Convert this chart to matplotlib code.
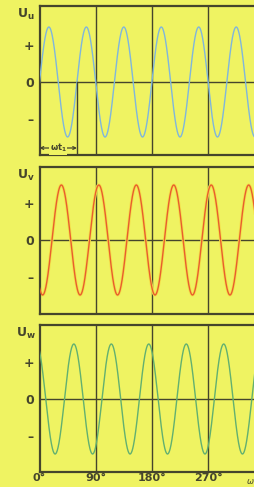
import numpy as np
from matplotlib import pyplot as plt

# Daten: drei Phasen, jeweils um 120 Grad (elektrisch) versetzt
phase_labels = ['u', 'v', 'w']
phase_shift_el = [0, 120, 240]      # Grad elektrisch
cycles_per_turn = 6                 # Perioden pro 360 Grad
line_colors = ['#7fb6dc', '#e85e2e', '#62b070']
x_ticks = [0, 90, 180, 270]
x_tick_labels = ['0°', '90°', '180°', '270°']
y_ticks = [0.68, 0, -0.68]
y_tick_labels = ['+', '0', '–']
wt1 = 60                            # Markierung omega*t1

W, H = 254, 487
bg = '#eff362'
dark = '#45452c'

fig = plt.figure(figsize=(W / 100, H / 100), dpi=100, facecolor=bg)

# Pixelrahmen der drei Felder (oben, unten, Nulllinie)
frames = [(6, 155, 82), (167, 314, 240), (325, 472, 399)]
amp_px = 55.0
x0_px, deg90_px = 39.5, 56.2

x = np.linspace(0, 360, 2000)

for i, (top, bottom, zero) in enumerate(frames):
    width = 360 / 90 * deg90_px
    ax = fig.add_axes([x0_px / W, 1 - bottom / H, width / W, (bottom - top) / H])
    ax.set_facecolor(bg)
    ax.set_xlim(0, 360)
    ax.set_ylim(-(bottom - zero) / amp_px, (zero - top) / amp_px)

    y = np.sin(np.radians(cycles_per_turn * x - phase_shift_el[i]))
    if i == 1:
        ax.plot(x, y, color='#f4e04a', lw=2.2, zorder=2)
    ax.plot(x, y, color=line_colors[i], lw=1.0, zorder=3)

    for xv in x_ticks[1:]:
        ax.axvline(xv, color=dark, lw=1.0, zorder=1)
    ax.axhline(0, color=dark, lw=1.0, zorder=1)

    for s in ax.spines.values():
        s.set_color(dark)
        s.set_linewidth(1.6)

    ax.set_yticks(y_ticks)
    ax.set_yticklabels(y_tick_labels, fontsize=9, fontweight='bold', color=dark)
    ax.tick_params(axis='y', length=0, pad=4)
    ax.set_xticks(x_ticks)
    if i == 2:
        ax.set_xticklabels(x_tick_labels, fontsize=8, fontweight='bold', color=dark)
        ax.tick_params(axis='x', length=0, pad=1)
    else:
        ax.set_xticklabels([])
        ax.tick_params(axis='x', length=0)

    # Achsenbeschriftung U mit Index
    fig.text(26 / W, 1 - (top + 8) / H, r'$\mathbf{U}_{\mathbf{%s}}$' % phase_labels[i],
             fontsize=9, color=dark, ha='center', va='center')

    if i == 0:
        # Markierung omega*t1
        ax.plot([wt1, wt1], [0, ax.get_ylim()[0]], color=dark, lw=1.0, zorder=4)
        ya = -1.2
        ax.annotate('', xy=(0, ya), xytext=(wt1, ya),
                    arrowprops=dict(arrowstyle='<->', color=dark, lw=0.9,
                                    shrinkA=0, shrinkB=0, mutation_scale=5))
        ax.text(wt1 / 2, ya, r'$\mathbf{\omega t_1}$', fontsize=6, color=dark,
                ha='center', va='center',
                bbox=dict(facecolor=bg, edgecolor='none', pad=0.3))

fig.text(246 / W, 1 - 481 / H, r'$\omega$', fontsize=6, color=dark, ha='left', va='center')

fig.savefig('out.png', dpi=100, facecolor=bg)
